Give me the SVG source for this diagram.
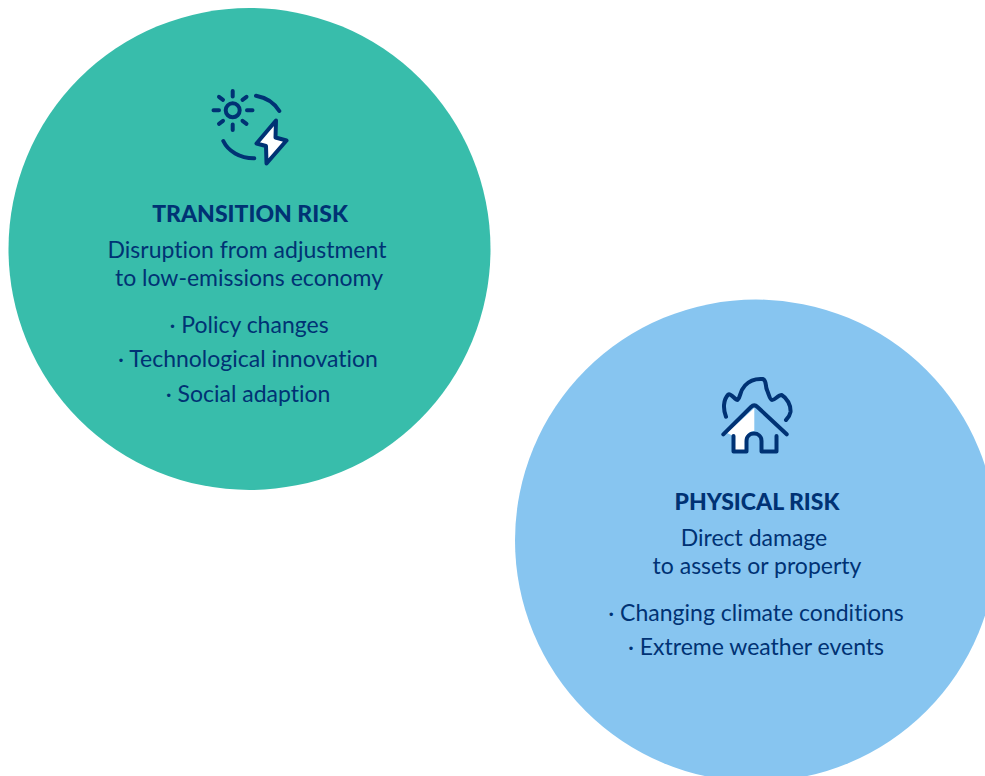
<svg xmlns="http://www.w3.org/2000/svg" width="985" height="776" viewBox="0 0 985 776">
<style>
text{font-family:"Lato","Liberation Sans",sans-serif;fill:#003274;text-anchor:middle;font-size:23px;font-variant-ligatures:none}
.h{font-weight:900;font-size:23px}
.i{fill:none;stroke:#003274;stroke-width:4;stroke-linecap:round;stroke-linejoin:round}
</style>
<rect width="985" height="776" fill="#fff"/>
<g id="transition-risk">
<circle cx="249.500" cy="249" r="241" fill="#38bdab"/>
<g id="transition-icon">
<circle class="i" cx="232.700" cy="110.300" r="7"/>
<path class="i" d="M232.700 91v5.500M232.700 124.500v5.500M213.500 110.300h5.500M247 110.300h5.500M219 96.800l4 3M242.500 120.800l4 3M219 123.800l4-3M242.500 99.800l4-3"/>
<path class="i" d="M256 95.700C266 97.500 274.500 103 279.300 111M223.300 141C228 151 240 158.500 254.300 158.300"/>
<path class="i" d="M276 120.500L256.500 143.500L266 146L266.500 163.500L286.500 140.500L275.500 137.500Z" style="fill:#fff"/>
</g>
<text class="h" x="250" y="222">TRANSITION RISK</text>
<text x="247" y="257.500">Disruption from adjustment</text>
<text x="249" y="285.500">to low-emissions economy</text>
<text x="249" y="332.500">· Policy changes</text>
<text x="248" y="367">· Technological innovation</text>
<text x="248" y="401.500">· Social adaption</text>
</g>
<g id="physical-risk">
<circle cx="756" cy="540.500" r="241" fill="#87c5f0"/>
<g id="physical-icon">
<path d="M754.300 408L727 433L733.500 436V451.500H746.500V438C746.500 432 752 431 754.300 431Z" fill="#fff"/>
<path class="i" d="M726 416.700C723 409 723 400 728.300 394.500C731 393 735 400 737.500 400C741 397 739 392 745 385.500C750 380 757 378.500 763 379C767 381 765 386 767 390C769 395 770 400 772 400C775 400 778 395 781.700 395C787 398 791 405 790.500 412C790 415 788 418 786 420"/>
<path class="i" d="M723.300 434.300L751 407C753 405 755.500 405 757.500 407L786.700 434.300"/>
<path class="i" d="M733.500 436V451.500H746.500V441C746.500 431 761.500 431 761.500 441V451.500H776.500V436"/>
</g>
<text class="h" x="757" y="510">PHYSICAL RISK</text>
<text x="754" y="545.500">Direct damage</text>
<text x="757" y="573.500">to assets or property</text>
<text x="756" y="620.500">· Changing climate conditions</text>
<text x="756" y="655">· Extreme weather events</text>
</g>
<g id="connectors"></g>
</svg>
